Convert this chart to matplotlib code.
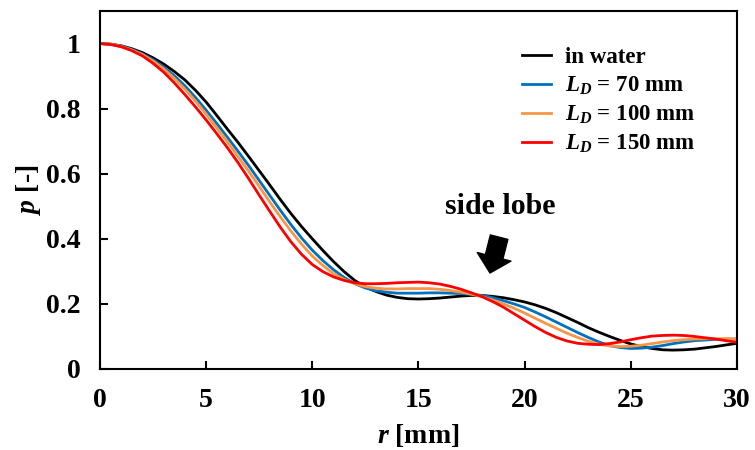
import numpy as np
import matplotlib.pyplot as plt

plt.rcParams["font.family"] = "Liberation Serif"
plt.rcParams["font.weight"] = "bold"
plt.rcParams["axes.labelweight"] = "bold"
plt.rcParams["mathtext.fontset"] = "custom"
plt.rcParams["mathtext.rm"] = "Liberation Serif:bold"
plt.rcParams["mathtext.it"] = "Liberation Serif:italic:bold"
plt.rcParams["mathtext.bf"] = "Liberation Serif:bold"

# radial position [mm], every 0.5 mm
r = np.arange(0, 30.5, 0.5)

# normalised pressure
p_water = [1.000, 0.998, 0.993, 0.984, 0.972, 0.956, 0.937, 0.914, 0.888, 0.856,
           0.820, 0.779, 0.737, 0.696, 0.653, 0.609, 0.565, 0.520, 0.477, 0.437,
           0.400, 0.364, 0.330, 0.299, 0.272, 0.252, 0.238, 0.227, 0.220, 0.216,
           0.215, 0.216, 0.218, 0.221, 0.224, 0.226, 0.226, 0.223, 0.219, 0.213,
           0.206, 0.197, 0.186, 0.173, 0.158, 0.143, 0.127, 0.113, 0.100, 0.088,
           0.077, 0.069, 0.063, 0.059, 0.058, 0.059, 0.061, 0.065, 0.069, 0.074,
           0.079]
p_70 = [1.000, 0.998, 0.992, 0.982, 0.968, 0.950, 0.928, 0.901, 0.870, 0.834,
        0.795, 0.754, 0.712, 0.669, 0.625, 0.579, 0.533, 0.487, 0.443, 0.402,
        0.365, 0.333, 0.305, 0.281, 0.262, 0.249, 0.240, 0.236, 0.233, 0.233,
        0.233, 0.234, 0.234, 0.233, 0.232, 0.229, 0.226, 0.219, 0.210, 0.200,
        0.189, 0.175, 0.160, 0.144, 0.128, 0.112, 0.097, 0.083, 0.072, 0.066,
        0.063, 0.064, 0.067, 0.072, 0.078, 0.083, 0.087, 0.089, 0.091, 0.092,
        0.092]
p_100 = [1.000, 0.998, 0.991, 0.980, 0.966, 0.946, 0.922, 0.893, 0.860, 0.823,
         0.783, 0.741, 0.698, 0.653, 0.608, 0.561, 0.513, 0.467, 0.423, 0.383,
         0.347, 0.318, 0.293, 0.275, 0.262, 0.253, 0.248, 0.246, 0.246, 0.247,
         0.247, 0.247, 0.245, 0.241, 0.236, 0.230, 0.222, 0.212, 0.200, 0.187,
         0.172, 0.156, 0.140, 0.125, 0.110, 0.097, 0.085, 0.076, 0.071, 0.069,
         0.070, 0.073, 0.078, 0.083, 0.087, 0.090, 0.092, 0.093, 0.093, 0.093,
         0.092]
p_150 = [1.000, 0.997, 0.990, 0.978, 0.962, 0.939, 0.912, 0.879, 0.843, 0.805,
         0.765, 0.723, 0.680, 0.634, 0.585, 0.534, 0.484, 0.435, 0.390, 0.352,
         0.321, 0.299, 0.283, 0.272, 0.265, 0.262, 0.262, 0.263, 0.265, 0.266,
         0.267, 0.265, 0.261, 0.254, 0.245, 0.234, 0.222, 0.207, 0.190, 0.170,
         0.150, 0.130, 0.112, 0.097, 0.086, 0.079, 0.076, 0.075, 0.078, 0.083,
         0.090, 0.096, 0.101, 0.103, 0.104, 0.103, 0.100, 0.096, 0.092, 0.087,
         0.082]

xticks = [0, 5, 10, 15, 20, 25, 30]
yticks = [0, 0.2, 0.4, 0.6, 0.8, 1]
ytick_labels = ["0", "0.2", "0.4", "0.6", "0.8", "1"]

fig = plt.figure(figsize=(7.55, 4.5), dpi=100)
ax = fig.add_axes([0.1325, 0.18, 0.8435, 0.7956])

ax.plot(r, p_water, color="black", lw=2, label="in water")
ax.plot(r, p_70, color="#0070C0", lw=2, label=r"$L_D$ = 70 mm")
ax.plot(r, p_100, color="#F79646", lw=2, label=r"$L_D$ = 100 mm")
ax.plot(r, p_150, color="#FF0000", lw=2, label=r"$L_D$ = 150 mm")

ax.set_xlim(0, 30)
ax.set_ylim(0, 1.1)
ax.set_xticks(xticks)
ax.set_yticks(yticks)
ax.set_yticklabels(ytick_labels)
ax.tick_params(direction="in", length=6, width=1.5, labelsize=20, pad=14)
for s in ax.spines.values():
    s.set_linewidth(1.5)

ax.set_xlabel(r"$r$ [mm]", fontsize=20, fontweight="bold", labelpad=6)
ax.set_ylabel(r"$p$ [-]", fontsize=20, fontweight="bold", labelpad=2)

# side lobe annotation
ax.text(18.84, 0.50, "side lobe", fontsize=21.5, ha="center", va="center")
ax.annotate("", xy=(18.37, 0.295), xytext=(18.8, 0.405),
            arrowprops=dict(arrowstyle="simple,head_width=2.5,head_length=1.2,tail_width=1.3",
                            fc="black", ec="black", shrinkA=0, shrinkB=0))

ax.legend(loc="upper left", bbox_to_anchor=(0.662, 0.90), frameon=False,
          fontsize=16.5, handlelength=1.3, handletextpad=0.6, labelspacing=0.3,
          borderpad=0, borderaxespad=0)

plt.savefig("out.png", dpi=100)
